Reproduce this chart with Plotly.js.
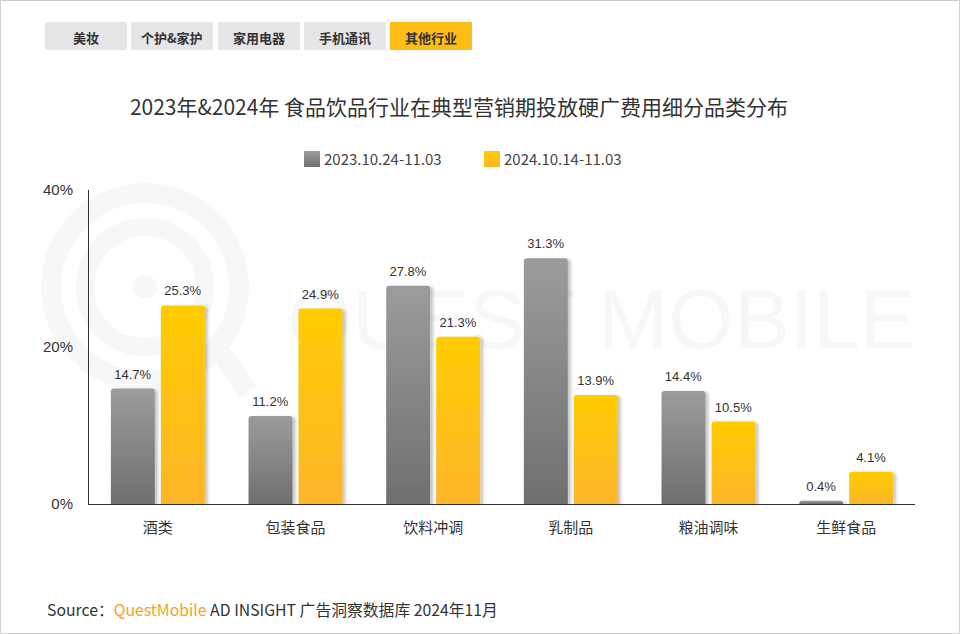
<!DOCTYPE html>
<html>
<head>
<meta charset="utf-8">
<script src="https://cdn.plot.ly/plotly-3.0.1.min.js"></script>
<style>
html,body{margin:0;padding:0;background:#fff;}
#chart{width:960px;height:634px;}
</style>
</head>
<body>
<div id="chart"></div>
<script>
// ---- data ----
const categories = ["酒类", "包装食品", "饮料冲调", "乳制品", "粮油调味", "生鲜食品"];
const series2023 = [14.7, 11.2, 27.8, 31.3, 14.4, 0.4];
const series2024 = [25.3, 24.9, 21.3, 13.9, 10.5, 4.1];
const seriesNames = ["2023.10.24-11.03", "2024.10.14-11.03"];
const yTickVals = [0, 20, 40];
const yTickText = ["0%", "20%", "40%"];
const tabLabels = ["美妆", "个护&家护", "家用电器", "手机通讯", "其他行业"];
const activeTab = 4;
const titleText = "2023年&2024年 食品饮品行业在典型营销期投放硬广费用细分品类分布";

// ---- layout helpers (pixel -> paper) ----
const W = 960, H = 634;
const M = {l: 89, r: 45, t: 190, b: 130};
const PW = W - M.l - M.r, PH = H - M.t - M.b;
const px = x => (x - M.l) / PW;
const py = y => (H - M.b - y) / PH;

const CJK = '"Noto Sans CJK SC", "Microsoft YaHei", sans-serif';
const LAT = '"Liberation Sans", Arial, sans-serif';

const shapes = [];
const annotations = [];

// page border
shapes.push({type:'rect', xref:'paper', yref:'paper', x0:px(0.5), x1:px(959.5), y0:py(0.5), y1:py(633.5),
  line:{color:'#cfcfcf', width:1}, fillcolor:'rgba(0,0,0,0)', layer:'below'});

// tabs
const tabX = [[45,127],[131,213],[218,300],[304,386],[390,472]];
tabLabels.forEach((t,i)=>{
  shapes.push({type:'rect', xref:'paper', yref:'paper', x0:px(tabX[i][0]), x1:px(tabX[i][1]), y0:py(50), y1:py(22),
    line:{width:0}, fillcolor: i===activeTab ? '#fdbd14' : '#e6e6e8', layer:'below'});
  annotations.push({xref:'paper', yref:'paper', x:px((tabX[i][0]+tabX[i][1])/2), y:py(37), text:t, showarrow:false,
    xanchor:'center', yanchor:'middle', font:{family:CJK, size:13, color:'#333', weight: 600}});
});

// watermark (below traces)
const wm = '#f7f7f7';
shapes.push({type:'circle', xref:'paper', yref:'paper', x0:px(51), x1:px(239), y0:py(381), y1:py(193),
  line:{color:wm, width:20}, fillcolor:'rgba(0,0,0,0)', layer:'below'});
shapes.push({type:'circle', xref:'paper', yref:'paper', x0:px(85), x1:px(205), y0:py(347), y1:py(227),
  line:{color:wm, width:18}, fillcolor:'rgba(0,0,0,0)', layer:'below'});
shapes.push({type:'circle', xref:'paper', yref:'paper', x0:px(133), x1:px(157), y0:py(299), y1:py(275),
  line:{width:0}, fillcolor:wm, layer:'below'});
shapes.push({type:'line', xref:'paper', yref:'paper', x0:px(212), x1:px(248), y0:py(340), y1:py(392),
  line:{color:wm, width:20}, layer:'below'});
shapes.push({type:'rect', xref:'paper', yref:'paper', x0:px(285), x1:px(918), y0:py(360), y1:py(262),
  line:{width:0}, fillcolor:'rgba(0,0,0,0)', layer:'below',
  label:{text:'QUEST MOBILE', textposition:'middle center', font:{family:LAT, size:84, color:wm}}});

// manual legend
const legendIdx = [];
const legX = [304, 484];
seriesNames.forEach((n,i)=>{
  legendIdx.push(shapes.length);
  shapes.push({type:'rect', xref:'paper', yref:'paper', x0:px(legX[i]), x1:px(legX[i]+16), y0:py(167), y1:py(151),
    line:{width:0}, fillcolor: i===0 ? '#888' : '#ffc20e', layer:'above'});
  annotations.push({xref:'paper', yref:'paper', x:px(legX[i]+18), y:py(159), xanchor:'left', yanchor:'middle', showarrow:false,
    text:n, font:{family:CJK, size:15, color:'#444'}});
});

// source line
annotations.push({xref:'paper', yref:'paper', x:px(45), y:py(609), xanchor:'left', yanchor:'middle', showarrow:false,
  text:'Source：<span style="color:#f7a21b">QuestMobile</span> AD INSIGHT 广告洞察数据库 2024年11月',
  font:{family:CJK, size:15.8, color:'#333'}});

const traces = [
  {type:'bar', name:seriesNames[0], x:categories, y:series2023, marker:{color:'#888888', line:{width:0}},
   texttemplate:'%{y:.1f}%', textposition:'outside', textfont:{family:LAT, size:13, color:'#333'}, cliponaxis:false, hoverinfo:'skip'},
  {type:'bar', name:seriesNames[1], x:categories, y:series2024, marker:{color:'#ffc20e', line:{width:0}},
   texttemplate:'%{y:.1f}%', textposition:'outside', textfont:{family:LAT, size:13, color:'#333'}, cliponaxis:false, hoverinfo:'skip'}
];

const layout = {
  width: W, height: H,
  margin: M,
  paper_bgcolor:'#fff', plot_bgcolor:'rgba(0,0,0,0)',
  barmode:'group', bargap:0.274, bargroupgap:0.12, barcornerradius:3,
  title:{text:titleText, x:px(459), xanchor:'center', xref:'paper', y:1-108/H, yanchor:'middle', yref:'container',
    font:{family:CJK, size:21, color:'#333'}},
  showlegend:false,
  xaxis:{type:'category', showline:true, linecolor:'#333', linewidth:1, showgrid:false, zeroline:false, ticks:'',
    tickfont:{family:CJK, size:15, color:'#333'}, ticklabelstandoff:10, fixedrange:true},
  yaxis:{range:[0,40], tickvals:yTickVals, ticktext:yTickText, showline:true, linecolor:'#333', linewidth:1, showgrid:false,
    zeroline:false, ticks:'', tickfont:{family:LAT, size:15, color:'#333'}, ticklabelstandoff:12, fixedrange:true},
  shapes: shapes,
  annotations: annotations
};

Plotly.newPlot('chart', traces, layout, {displayModeBar:false, staticPlot:true}).then(gd=>{
  const svg = gd.querySelector('.main-svg');
  const NS = 'http://www.w3.org/2000/svg';
  let defs = svg.querySelector('defs');
  if(!defs){ defs = document.createElementNS(NS,'defs'); svg.insertBefore(defs, svg.firstChild); }
  function grad(id, top, bottom){
    const g = document.createElementNS(NS,'linearGradient');
    g.setAttribute('id', id); g.setAttribute('x1','0'); g.setAttribute('y1','0'); g.setAttribute('x2','0'); g.setAttribute('y2','1');
    [[0,top],[1,bottom]].forEach(([o,c])=>{
      const s = document.createElementNS(NS,'stop'); s.setAttribute('offset', o); s.setAttribute('stop-color', c); g.appendChild(s);
    });
    defs.appendChild(g);
  }
  grad('gGray', '#9c9c9c', '#6f6f6f');
  grad('gYel', '#ffcc00', '#fdb52a');
  const f = document.createElementNS(NS,'filter');
  f.setAttribute('id','bShadow'); f.setAttribute('x','-30%'); f.setAttribute('y','-10%'); f.setAttribute('width','160%'); f.setAttribute('height','120%');
  const ds = document.createElementNS(NS,'feDropShadow');
  ds.setAttribute('dx','3'); ds.setAttribute('dy','1'); ds.setAttribute('stdDeviation','1.8');
  ds.setAttribute('flood-color','#000'); ds.setAttribute('flood-opacity','0.22');
  f.appendChild(ds); defs.appendChild(f);
  const ids = ['gGray','gYel'];
  gd.querySelectorAll('.barlayer .trace.bars').forEach((tr,i)=>{
    tr.querySelectorAll('.point path').forEach(p=>{ p.style.fill = 'url(#'+ids[i]+')'; p.setAttribute('filter','url(#bShadow)'); });
    tr.querySelectorAll('.point text').forEach(t=>{
      const tf = t.getAttribute('transform') || '';
      t.setAttribute('transform', 'translate(0,-4) ' + tf);
    });
  });
  legendIdx.forEach((idx,i)=>{
    gd.querySelectorAll('path[data-index="'+idx+'"]').forEach(p=>{
      p.style.fill = 'url(#'+ids[i]+')';
    });
  });
});
</script>
</body>
</html>
